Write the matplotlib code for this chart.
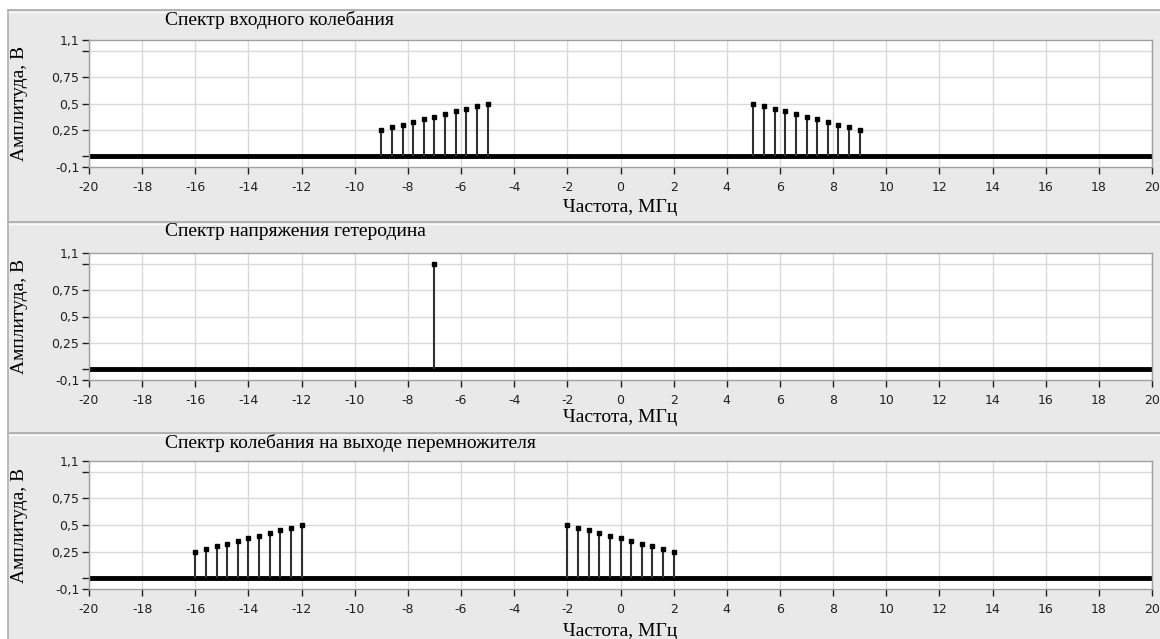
import matplotlib.pyplot as plt
from matplotlib.patches import Rectangle
from matplotlib.lines import Line2D

# входное колебание: две боковые полосы
input_freq = [-9.0, -8.6, -8.2, -7.8, -7.4, -7.0, -6.6, -6.2, -5.8, -5.4, -5.0,
              5.0, 5.4, 5.8, 6.2, 6.6, 7.0, 7.4, 7.8, 8.2, 8.6, 9.0]
input_amp = [0.25, 0.275, 0.3, 0.325, 0.35, 0.375, 0.4, 0.425, 0.45, 0.475, 0.5,
             0.5, 0.475, 0.45, 0.425, 0.4, 0.375, 0.35, 0.325, 0.3, 0.275, 0.25]

# гетеродин
lo_freq = [-7.0]
lo_amp = [1.0]

# выход перемножителя
out_freq = [-16.0, -15.6, -15.2, -14.8, -14.4, -14.0, -13.6, -13.2, -12.8, -12.4, -12.0,
            -2.0, -1.6, -1.2, -0.8, -0.4, 0.0, 0.4, 0.8, 1.2, 1.6, 2.0]
out_amp = [0.25, 0.275, 0.3, 0.325, 0.35, 0.375, 0.4, 0.425, 0.45, 0.475, 0.5,
           0.5, 0.475, 0.45, 0.425, 0.4, 0.375, 0.35, 0.325, 0.3, 0.275, 0.25]

titles = ['Спектр входного колебания',
          'Спектр напряжения гетеродина',
          'Спектр колебания на выходе перемножителя']

x_ticks = list(range(-20, 21, 2))
y_ticks = [-0.1, 0.25, 0.5, 0.75, 1.1]
y_tick_labels = ['-0,1', '0,25', '0,5', '0,75', '1,1']
y_minor = [0.0, 1.0]
y_grid = [0.0, 0.25, 0.5, 0.75, 1.0]

W, H = 1160, 639
BG = '#e9e9e9'
SERIF = 'Liberation Serif'

fig = plt.figure(figsize=(W / 100, H / 100), dpi=100)
fig.patch.set_facecolor('white')


def fx(px):
    return px / W


def fy(py):
    return 1 - py / H


# панели: (верх панели, верх графика, низ графика, подпись оси x)
panels = [(10, 40, 167, 208), (222, 253, 380, 418), (433, 461, 589, 631)]
panel_bottoms = [222, 433, 645]

for (ptop, atop, abot, xlab_y), pbot in zip(panels, panel_bottoms):
    fig.patches.append(Rectangle((fx(8), fy(pbot)), 1 - fx(8), fy(ptop) - fy(pbot),
                                 transform=fig.transFigure, facecolor=BG,
                                 edgecolor='none', zorder=-2))
    fig.lines.append(Line2D([fx(8), 1], [fy(ptop), fy(ptop)], transform=fig.transFigure,
                            color='#a8a8a8', lw=1.2, zorder=-1))
    fig.lines.append(Line2D([fx(8), 1], [fy(ptop + 1.5), fy(ptop + 1.5)],
                            transform=fig.transFigure, color='#fafafa', lw=1, zorder=-1))

fig.lines.append(Line2D([fx(8), fx(8)], [0, fy(10)], transform=fig.transFigure,
                        color='#b0b0b0', lw=1.2, zorder=-1))

data = [(input_freq, input_amp), (lo_freq, lo_amp), (out_freq, out_amp)]

for (ptop, atop, abot, xlab_y), title, (freq, amp) in zip(panels, titles, data):
    ax = fig.add_axes([fx(89), fy(abot), fx(1152) - fx(89), fy(atop) - fy(abot)])
    ax.set_facecolor('white')
    ax.set_xlim(-20, 20)
    ax.set_ylim(-0.1, 1.1)

    for x in x_ticks:
        ax.axvline(x, color='#d9d9d9', lw=1, zorder=0)
    for y in y_grid:
        ax.axhline(y, color='#d9d9d9', lw=1, zorder=0)

    ax.axhline(0, color='black', lw=3.5, zorder=2)
    ax.vlines(freq, 0, amp, color='#303030', lw=1.5, zorder=3)
    ax.plot(freq, amp, 's', color='black', ms=3.5, zorder=4)

    ax.set_xticks(x_ticks)
    ax.set_xticklabels([str(x) for x in x_ticks], fontsize=9, color='#202020')
    ax.set_yticks(y_ticks)
    ax.set_yticklabels(y_tick_labels, fontsize=9, color='#202020')
    ax.set_yticks(y_minor, minor=True)
    ax.tick_params(axis='both', which='both', direction='out', length=5,
                   width=1, color='#202020')
    ax.tick_params(axis='x', pad=5)
    ax.tick_params(axis='y', pad=2)

    for sp in ax.spines.values():
        sp.set_color('#a0a0a0')
        sp.set_linewidth(1)

    fig.text(fx(165), fy(ptop + 10), title, fontsize=14, family=SERIF,
             ha='left', va='center')
    fig.text(fx(620), fy(xlab_y), 'Частота, МГц', fontsize=14, family=SERIF,
             ha='center', va='center')
    fig.text(fx(20), fy((atop + abot) / 2), 'Амплитуда, В', fontsize=14, family=SERIF,
             rotation=90, ha='center', va='center')

fig.savefig('out.png', dpi=100, facecolor=fig.get_facecolor())
